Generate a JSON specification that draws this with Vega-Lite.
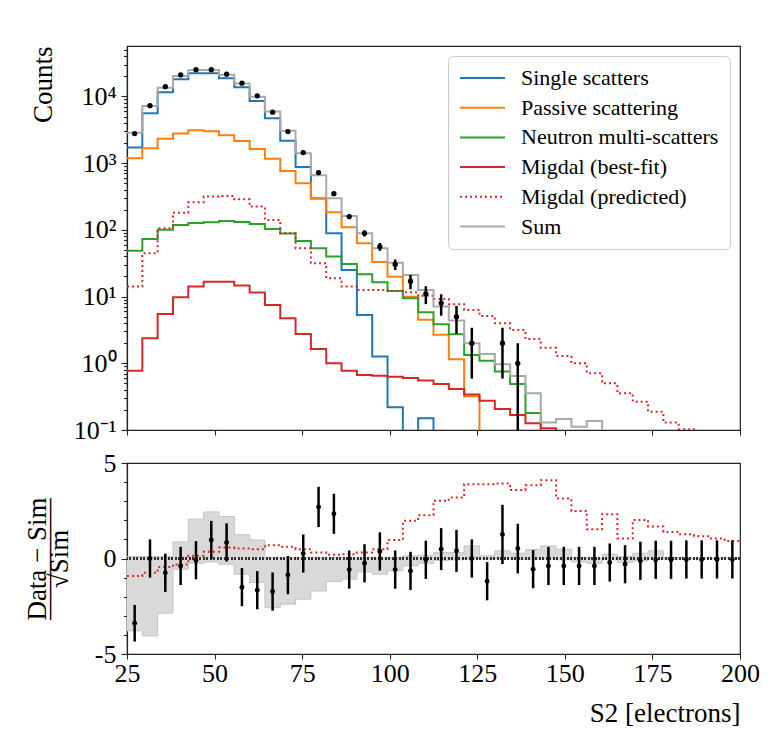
{
  "$schema": "https://vega.github.io/schema/vega-lite/v6.json",
  "padding": {"left": 22, "top": 36, "right": 10, "bottom": 10},
  "background": "white",
  "spacing": 5,
  "config": {
    "font": "Liberation Serif",
    "view": {"stroke": "#222222", "strokeWidth": 1.2},
    "axis": {
      "labelFont": "Liberation Serif", "titleFont": "Liberation Serif",
      "labelFontSize": 26, "titleFontSize": 27, "titleFontWeight": "normal",
      "labelColor": "#000000", "titleColor": "#000000",
      "grid": false, "domainColor": "#222222", "tickColor": "#222222",
      "domainWidth": 1.2, "tickWidth": 1.1, "labelFlush": false, "labelOverlap": false
    },
    "legend": {"labelFont": "Liberation Serif"}
  },
  "datasets": {
    "hist": [
      {"edge": 25, "Single scatters": 1710, "Passive scattering": 1180, "Neutron multi-scatters": 48.7, "Migdal (best-fit)": 0.77, "Migdal (predicted)": 14.1, "Sum": 2860},
      {"edge": 29.375, "Single scatters": 5600, "Passive scattering": 1670, "Neutron multi-scatters": 73, "Migdal (best-fit)": 2.37, "Migdal (predicted)": 44.6, "Sum": 7210},
      {"edge": 33.75, "Single scatters": 11600, "Passive scattering": 2330, "Neutron multi-scatters": 100, "Migdal (best-fit)": 5.5, "Migdal (predicted)": 106, "Sum": 13500},
      {"edge": 38.125, "Single scatters": 18100, "Passive scattering": 2770, "Neutron multi-scatters": 118, "Migdal (best-fit)": 9.8, "Migdal (predicted)": 181, "Sum": 20300},
      {"edge": 42.5, "Single scatters": 22300, "Passive scattering": 3110, "Neutron multi-scatters": 127, "Migdal (best-fit)": 14.1, "Migdal (predicted)": 259, "Sum": 24900},
      {"edge": 46.875, "Single scatters": 22300, "Passive scattering": 3000, "Neutron multi-scatters": 130, "Migdal (best-fit)": 16.7, "Migdal (predicted)": 315, "Sum": 24900},
      {"edge": 51.25, "Single scatters": 18700, "Passive scattering": 2620, "Neutron multi-scatters": 136, "Migdal (best-fit)": 16.7, "Migdal (predicted)": 322, "Sum": 21200},
      {"edge": 55.625, "Single scatters": 13700, "Passive scattering": 2150, "Neutron multi-scatters": 131, "Migdal (best-fit)": 14.6, "Migdal (predicted)": 288, "Sum": 15600},
      {"edge": 60, "Single scatters": 8570, "Passive scattering": 1630, "Neutron multi-scatters": 122, "Migdal (best-fit)": 11.5, "Migdal (predicted)": 223, "Sum": 9930},
      {"edge": 64.375, "Single scatters": 4710, "Passive scattering": 1160, "Neutron multi-scatters": 103, "Migdal (best-fit)": 7.5, "Migdal (predicted)": 141, "Sum": 5920},
      {"edge": 68.75, "Single scatters": 2170, "Passive scattering": 764, "Neutron multi-scatters": 88, "Migdal (best-fit)": 4.73, "Migdal (predicted)": 89, "Sum": 3070},
      {"edge": 73.125, "Single scatters": 877, "Passive scattering": 500, "Neutron multi-scatters": 68, "Migdal (best-fit)": 2.75, "Migdal (predicted)": 53, "Sum": 1410},
      {"edge": 77.5, "Single scatters": 294, "Passive scattering": 298, "Neutron multi-scatters": 53, "Migdal (best-fit)": 1.64, "Migdal (predicted)": 31.6, "Sum": 660},
      {"edge": 81.875, "Single scatters": 89, "Passive scattering": 184, "Neutron multi-scatters": 40, "Migdal (best-fit)": 1.0, "Migdal (predicted)": 18.8, "Sum": 298},
      {"edge": 86.25, "Single scatters": 25, "Passive scattering": 109, "Neutron multi-scatters": 30.8, "Migdal (best-fit)": 0.77, "Migdal (predicted)": 14.1, "Sum": 161},
      {"edge": 90.625, "Single scatters": 5.3, "Passive scattering": 63, "Neutron multi-scatters": 21.6, "Migdal (best-fit)": 0.67, "Migdal (predicted)": 12.6, "Sum": 89},
      {"edge": 95, "Single scatters": 1.26, "Passive scattering": 33, "Neutron multi-scatters": 16.4, "Migdal (best-fit)": 0.65, "Migdal (predicted)": 12.5, "Sum": 53},
      {"edge": 99.375, "Single scatters": 0.22, "Passive scattering": 19.9, "Neutron multi-scatters": 12.1, "Migdal (best-fit)": 0.63, "Migdal (predicted)": 12.1, "Sum": 32},
      {"edge": 103.75, "Single scatters": 0.001, "Passive scattering": 9.95, "Neutron multi-scatters": 9.4, "Migdal (best-fit)": 0.6, "Migdal (predicted)": 11.6, "Sum": 21},
      {"edge": 108.125, "Single scatters": 0.15, "Passive scattering": 4.5, "Neutron multi-scatters": 5.8, "Migdal (best-fit)": 0.55, "Migdal (predicted)": 10.3, "Sum": 12.6},
      {"edge": 112.5, "Single scatters": 0.001, "Passive scattering": 2.68, "Neutron multi-scatters": 3.85, "Migdal (best-fit)": 0.49, "Migdal (predicted)": 9.2, "Sum": 7.1},
      {"edge": 116.875, "Single scatters": 0.001, "Passive scattering": 1.15, "Neutron multi-scatters": 2.72, "Migdal (best-fit)": 0.41, "Migdal (predicted)": 7.7, "Sum": 4.36},
      {"edge": 121.25, "Single scatters": 0.001, "Passive scattering": 0.32, "Neutron multi-scatters": 1.33, "Migdal (best-fit)": 0.34, "Migdal (predicted)": 6.3, "Sum": 2.0},
      {"edge": 125.625, "Single scatters": 0.001, "Passive scattering": 0.001, "Neutron multi-scatters": 1.09, "Migdal (best-fit)": 0.275, "Migdal (predicted)": 5.1, "Sum": 1.38},
      {"edge": 130, "Single scatters": 0.001, "Passive scattering": 0.001, "Neutron multi-scatters": 0.75, "Migdal (best-fit)": 0.206, "Migdal (predicted)": 3.98, "Sum": 0.97},
      {"edge": 134.375, "Single scatters": 0.001, "Passive scattering": 0.001, "Neutron multi-scatters": 0.49, "Migdal (best-fit)": 0.168, "Migdal (predicted)": 3.15, "Sum": 0.645},
      {"edge": 138.75, "Single scatters": 0.001, "Passive scattering": 0.001, "Neutron multi-scatters": 0.18, "Migdal (best-fit)": 0.126, "Migdal (predicted)": 2.31, "Sum": 0.355},
      {"edge": 143.125, "Single scatters": 0.001, "Passive scattering": 0.001, "Neutron multi-scatters": 0.001, "Migdal (best-fit)": 0.106, "Migdal (predicted)": 1.71, "Sum": 0.129},
      {"edge": 147.5, "Single scatters": 0.001, "Passive scattering": 0.001, "Neutron multi-scatters": 0.001, "Migdal (best-fit)": 0.001, "Migdal (predicted)": 1.29, "Sum": 0.146},
      {"edge": 151.875, "Single scatters": 0.001, "Passive scattering": 0.001, "Neutron multi-scatters": 0.001, "Migdal (best-fit)": 0.001, "Migdal (predicted)": 1.0, "Sum": 0.112},
      {"edge": 156.25, "Single scatters": 0.001, "Passive scattering": 0.001, "Neutron multi-scatters": 0.001, "Migdal (best-fit)": 0.001, "Migdal (predicted)": 0.71, "Sum": 0.137},
      {"edge": 160.625, "Single scatters": 0.001, "Passive scattering": 0.001, "Neutron multi-scatters": 0.001, "Migdal (best-fit)": 0.001, "Migdal (predicted)": 0.5, "Sum": 0.001},
      {"edge": 165, "Single scatters": 0.001, "Passive scattering": 0.001, "Neutron multi-scatters": 0.001, "Migdal (best-fit)": 0.001, "Migdal (predicted)": 0.355, "Sum": 0.001},
      {"edge": 169.375, "Single scatters": 0.001, "Passive scattering": 0.001, "Neutron multi-scatters": 0.001, "Migdal (best-fit)": 0.001, "Migdal (predicted)": 0.266, "Sum": 0.001},
      {"edge": 173.75, "Single scatters": 0.001, "Passive scattering": 0.001, "Neutron multi-scatters": 0.001, "Migdal (best-fit)": 0.001, "Migdal (predicted)": 0.188, "Sum": 0.001},
      {"edge": 178.125, "Single scatters": 0.001, "Passive scattering": 0.001, "Neutron multi-scatters": 0.001, "Migdal (best-fit)": 0.001, "Migdal (predicted)": 0.129, "Sum": 0.001},
      {"edge": 182.5, "Single scatters": 0.001, "Passive scattering": 0.001, "Neutron multi-scatters": 0.001, "Migdal (best-fit)": 0.001, "Migdal (predicted)": 0.103, "Sum": 0.001},
      {"edge": 186.875, "Single scatters": 0.001, "Passive scattering": 0.001, "Neutron multi-scatters": 0.001, "Migdal (best-fit)": 0.001, "Migdal (predicted)": 0.001, "Sum": 0.001},
      {"edge": 191.25, "Single scatters": 0.001, "Passive scattering": 0.001, "Neutron multi-scatters": 0.001, "Migdal (best-fit)": 0.001, "Migdal (predicted)": 0.001, "Sum": 0.001},
      {"edge": 195.625, "Single scatters": 0.001, "Passive scattering": 0.001, "Neutron multi-scatters": 0.001, "Migdal (best-fit)": 0.001, "Migdal (predicted)": 0.001, "Sum": 0.001},
      {"edge": 200, "Single scatters": 0.001, "Passive scattering": 0.001, "Neutron multi-scatters": 0.001, "Migdal (best-fit)": 0.001, "Migdal (predicted)": 0.001, "Sum": 0.001}
    ],
    "pts": [
      {"center": 27.1875, "n": 2770, "lo": 2717, "hi": 2823},
      {"center": 31.5625, "n": 7280, "lo": 7195, "hi": 7365},
      {"center": 35.9375, "n": 14000, "lo": 13882, "hi": 14118},
      {"center": 40.3125, "n": 21000, "lo": 20855, "hi": 21145},
      {"center": 44.6875, "n": 25200, "lo": 25041, "hi": 25359},
      {"center": 49.0625, "n": 25200, "lo": 25041, "hi": 25359},
      {"center": 53.4375, "n": 21500, "lo": 21353, "hi": 21647},
      {"center": 57.8125, "n": 15800, "lo": 15674, "hi": 15926},
      {"center": 62.1875, "n": 10200, "lo": 10099, "hi": 10301},
      {"center": 66.5625, "n": 5800, "lo": 5724, "hi": 5876},
      {"center": 70.9375, "n": 2970, "lo": 2915, "hi": 3025},
      {"center": 75.3125, "n": 1440, "lo": 1402, "hi": 1478},
      {"center": 79.6875, "n": 721, "lo": 694, "hi": 748},
      {"center": 84.0625, "n": 349, "lo": 330, "hi": 368},
      {"center": 88.4375, "n": 158, "lo": 145, "hi": 171},
      {"center": 92.8125, "n": 89, "lo": 79.6, "hi": 98.4},
      {"center": 97.1875, "n": 56, "lo": 48.5, "hi": 63.5},
      {"center": 101.5625, "n": 30.5, "lo": 25, "hi": 36},
      {"center": 105.9375, "n": 17, "lo": 12.9, "hi": 21.1},
      {"center": 110.3125, "n": 11, "lo": 7.7, "hi": 14.3},
      {"center": 114.6875, "n": 8, "lo": 5.17, "hi": 10.83},
      {"center": 119.0625, "n": 5, "lo": 2.76, "hi": 7.24},
      {"center": 123.4375, "n": 2, "lo": 0.59, "hi": 3.41},
      {"center": 132.1875, "n": 2, "lo": 0.59, "hi": 3.41},
      {"center": 136.5625, "n": 1, "lo": 0.001, "hi": 2}
    ],
    "band": [
      {"edge": 25, "lo": -3.79, "hi": 0.1, "pred": -0.91},
      {"edge": 29.375, "lo": -4.05, "hi": 0.1, "pred": -0.75},
      {"edge": 33.75, "lo": -2.86, "hi": 0.1, "pred": -0.45},
      {"edge": 38.125, "lo": -0.56, "hi": 0.87, "pred": -0.31},
      {"edge": 42.5, "lo": -0.25, "hi": 2.06, "pred": 0.14},
      {"edge": 46.875, "lo": -0.18, "hi": 2.44, "pred": 0.35},
      {"edge": 51.25, "lo": -0.3, "hi": 2.2, "pred": 0.58},
      {"edge": 55.625, "lo": -0.82, "hi": 1.24, "pred": 0.53},
      {"edge": 60, "lo": -1.26, "hi": 0.97, "pred": 0.49},
      {"edge": 64.375, "lo": -2.57, "hi": 0.03, "pred": 0.7},
      {"edge": 68.75, "lo": -2.39, "hi": 0.03, "pred": 0.61},
      {"edge": 73.125, "lo": -2.13, "hi": 0.03, "pred": 0.49},
      {"edge": 77.5, "lo": -1.7, "hi": 0.03, "pred": 0.31},
      {"edge": 81.875, "lo": -1.2, "hi": 0.03, "pred": 0.19},
      {"edge": 86.25, "lo": -1.08, "hi": 0.03, "pred": 0.22},
      {"edge": 90.625, "lo": -0.7, "hi": 0.03, "pred": 0.31},
      {"edge": 95, "lo": -0.82, "hi": 0.03, "pred": 0.49},
      {"edge": 99.375, "lo": -0.65, "hi": 0.05, "pred": 0.97},
      {"edge": 103.75, "lo": -0.39, "hi": 0.14, "pred": 1.97},
      {"edge": 108.125, "lo": -0.25, "hi": 0.17, "pred": 2.27},
      {"edge": 112.5, "lo": -0.1, "hi": 0.31, "pred": 3.02},
      {"edge": 116.875, "lo": -0.07, "hi": 0.31, "pred": 3.19},
      {"edge": 121.25, "lo": -0.02, "hi": 0.66, "pred": 3.89},
      {"edge": 125.625, "lo": -0.04, "hi": 0.14, "pred": 3.89},
      {"edge": 130, "lo": -0.02, "hi": 0.4, "pred": 3.93},
      {"edge": 134.375, "lo": -0.04, "hi": 0.28, "pred": 3.59},
      {"edge": 138.75, "lo": -0.04, "hi": 0.47, "pred": 3.84},
      {"edge": 143.125, "lo": -0.02, "hi": 0.66, "pred": 4.1},
      {"edge": 147.5, "lo": -0.07, "hi": 0.49, "pred": 3.14},
      {"edge": 151.875, "lo": -0.18, "hi": 0.05, "pred": 2.49},
      {"edge": 156.25, "lo": -0.25, "hi": 0.0, "pred": 1.53},
      {"edge": 160.625, "lo": -0.07, "hi": 0.22, "pred": 2.32},
      {"edge": 165, "lo": -0.21, "hi": 0.1, "pred": 1.05},
      {"edge": 169.375, "lo": -0.12, "hi": 0.28, "pred": 2.02},
      {"edge": 173.75, "lo": -0.04, "hi": 0.4, "pred": 1.68},
      {"edge": 178.125, "lo": -0.04, "hi": 0.05, "pred": 1.39},
      {"edge": 182.5, "lo": -0.02, "hi": 0.02, "pred": 1.27},
      {"edge": 186.875, "lo": -0.02, "hi": 0.02, "pred": 1.17},
      {"edge": 191.25, "lo": -0.02, "hi": 0.02, "pred": 1.05},
      {"edge": 195.625, "lo": -0.02, "hi": 0.02, "pred": 0.91},
      {"edge": 200, "lo": -0.02, "hi": 0.02, "pred": 0.91}
    ],
    "res": [
      {"center": 27.1875, "r": -3.39, "elo": -4.35, "ehi": -2.43},
      {"center": 31.5625, "r": 0.0, "elo": -1.0, "ehi": 1.0},
      {"center": 35.9375, "r": -0.75, "elo": -1.75, "ehi": 0.25},
      {"center": 40.3125, "r": -0.39, "elo": -1.39, "ehi": 0.61},
      {"center": 44.6875, "r": -0.09, "elo": -1.09, "ehi": 0.91},
      {"center": 49.0625, "r": 0.97, "elo": -0.03, "ehi": 1.97},
      {"center": 53.4375, "r": 0.84, "elo": -0.16, "ehi": 1.84},
      {"center": 57.8125, "r": -1.5, "elo": -2.5, "ehi": -0.5},
      {"center": 62.1875, "r": -1.66, "elo": -2.66, "ehi": -0.66},
      {"center": 66.5625, "r": -1.73, "elo": -2.73, "ehi": -0.73},
      {"center": 70.9375, "r": -0.87, "elo": -1.87, "ehi": 0.13},
      {"center": 75.3125, "r": 0.26, "elo": -0.74, "ehi": 1.26},
      {"center": 79.6875, "r": 2.7, "elo": 1.65, "ehi": 3.75},
      {"center": 84.0625, "r": 2.34, "elo": 1.29, "ehi": 3.39},
      {"center": 88.4375, "r": -0.58, "elo": -1.58, "ehi": 0.42},
      {"center": 92.8125, "r": -0.25, "elo": -1.25, "ehi": 0.75},
      {"center": 97.1875, "r": 0.37, "elo": -0.63, "ehi": 1.37},
      {"center": 101.5625, "r": -0.58, "elo": -1.58, "ehi": 0.42},
      {"center": 105.9375, "r": -0.65, "elo": -1.65, "ehi": 0.35},
      {"center": 110.3125, "r": -0.07, "elo": -1.07, "ehi": 0.93},
      {"center": 114.6875, "r": 0.49, "elo": -0.61, "ehi": 1.59},
      {"center": 119.0625, "r": 0.4, "elo": -0.7, "ehi": 1.5},
      {"center": 123.4375, "r": 0.0, "elo": -1.0, "ehi": 1.0},
      {"center": 127.8125, "r": -1.19, "elo": -2.19, "ehi": -0.19},
      {"center": 132.1875, "r": 1.26, "elo": -0.29, "ehi": 2.81},
      {"center": 136.5625, "r": 0.52, "elo": -0.78, "ehi": 1.82},
      {"center": 140.9375, "r": -0.56, "elo": -1.56, "ehi": 0.44},
      {"center": 145.3125, "r": -0.39, "elo": -1.39, "ehi": 0.61},
      {"center": 149.6875, "r": -0.39, "elo": -1.39, "ehi": 0.61},
      {"center": 154.0625, "r": -0.39, "elo": -1.39, "ehi": 0.61},
      {"center": 158.4375, "r": -0.39, "elo": -1.39, "ehi": 0.61},
      {"center": 162.8125, "r": -0.21, "elo": -1.21, "ehi": 0.79},
      {"center": 167.1875, "r": -0.3, "elo": -1.3, "ehi": 0.7},
      {"center": 171.5625, "r": -0.12, "elo": -1.12, "ehi": 0.88},
      {"center": 175.9375, "r": -0.07, "elo": -1.07, "ehi": 0.93},
      {"center": 180.3125, "r": -0.07, "elo": -1.07, "ehi": 0.93},
      {"center": 184.6875, "r": -0.05, "elo": -1.05, "ehi": 0.95},
      {"center": 189.0625, "r": -0.05, "elo": -1.05, "ehi": 0.95},
      {"center": 193.4375, "r": -0.05, "elo": -1.05, "ehi": 0.95},
      {"center": 197.8125, "r": -0.05, "elo": -1.05, "ehi": 0.95}
    ]
  },
  "vconcat": [
    {
      "width": 613,
      "height": 384,
      "layer": [
        {
          "data": {"name": "hist"},
          "transform": [{"fold": ["Single scatters", "Passive scattering", "Neutron multi-scatters", "Migdal (best-fit)", "Migdal (predicted)", "Sum"], "as": ["series", "count"]}],
          "mark": {"type": "line", "interpolate": "step-after", "strokeWidth": 2, "clip": true},
          "encoding": {
            "x": {"field": "edge", "type": "quantitative", "scale": {"domain": [25, 200], "nice": false, "zero": false},
                  "axis": {"values": [25, 50, 75, 100, 125, 150, 175, 200], "labels": false, "title": null, "tickSize": 5}},
            "y": {"field": "count", "type": "quantitative", "scale": {"type": "log", "domain": [0.1, 57000], "nice": false},
                  "axis": {"title": "Counts", "titleAnchor": "end", "titlePadding": 16, "labelPadding": 5, "labelOverlap": false,
                           "values": [0.1, 0.2, 0.3, 0.4, 0.5, 0.6, 0.7, 0.8, 0.9, 1, 2, 3, 4, 5, 6, 7, 8, 9, 10, 20, 30, 40, 50, 60, 70, 80, 90, 100, 200, 300, 400, 500, 600, 700, 800, 900, 1000, 2000, 3000, 4000, 5000, 6000, 7000, 8000, 9000, 10000, 20000, 30000, 40000, 50000],
                           "labelExpr": "datum.value == 0.1 ? '10⁻¹' : datum.value == 1 ? '10⁰' : datum.value == 10 ? '10¹' : datum.value == 100 ? '10²' : datum.value == 1000 ? '10³' : datum.value == 10000 ? '10⁴' : ''",
                           "tickSize": {"condition": {"test": "indexof([0.1, 1, 10, 100, 1000, 10000], datum.value) >= 0", "value": 6}, "value": 3.5}}},
            "color": {"field": "series", "type": "nominal",
                      "scale": {"domain": ["Single scatters", "Passive scattering", "Neutron multi-scatters", "Migdal (best-fit)", "Migdal (predicted)", "Sum"],
                                "range": ["#1f77b4", "#ff7f0e", "#2ca02c", "#d62728", "#d62728", "#a9a9a9"]},
                      "legend": {"title": null, "orient": "top-right", "offset": 10, "labelFont": "Liberation Serif", "labelFontSize": 22, "labelLimit": 400, "labelColor": "#000000", "symbolType": "stroke", "symbolSize": 2025, "symbolStrokeWidth": 2, "clipHeight": 22, "rowPadding": 7.7, "labelOffset": 15, "padding": 11, "strokeColor": "#cccccc", "fillColor": "white", "cornerRadius": 5}},
            "strokeDash": {"field": "series", "type": "nominal",
                      "scale": {"domain": ["Single scatters", "Passive scattering", "Neutron multi-scatters", "Migdal (best-fit)", "Migdal (predicted)", "Sum"],
                                "range": [[1, 0], [1, 0], [1, 0], [1, 0], [2, 3], [1, 0]]},
                      "legend": {"title": null, "orient": "top-right", "offset": 10, "labelFont": "Liberation Serif", "labelFontSize": 22, "labelLimit": 400, "labelColor": "#000000", "symbolType": "stroke", "symbolSize": 2025, "symbolStrokeWidth": 2, "clipHeight": 22, "rowPadding": 7.7, "labelOffset": 15, "padding": 11, "strokeColor": "#cccccc", "fillColor": "white", "cornerRadius": 5}}
          }
        },
        {
          "data": {"name": "pts"},
          "mark": {"type": "rule", "strokeWidth": 2.5, "color": "#000000", "clip": true},
          "encoding": {
            "x": {"field": "center", "type": "quantitative", "scale": {"domain": [25, 200], "nice": false, "zero": false}},
            "y": {"field": "lo", "type": "quantitative", "scale": {"type": "log", "domain": [0.1, 57000], "nice": false}},
            "y2": {"field": "hi"}
          }
        },
        {
          "data": {"name": "pts"},
          "mark": {"type": "circle", "size": 28, "color": "#000000", "opacity": 1},
          "encoding": {
            "x": {"field": "center", "type": "quantitative", "scale": {"domain": [25, 200], "nice": false, "zero": false}},
            "y": {"field": "n", "type": "quantitative", "scale": {"type": "log", "domain": [0.1, 57000], "nice": false}}
          }
        }
      ]
    },
    {
      "width": 613,
      "height": 191,
      "resolve": {"axis": {"y": "independent"}},
      "layer": [
        {
          "data": {"name": "band"},
          "mark": {"type": "area", "interpolate": "step-after", "color": "#d9d9d9", "opacity": 1},
          "encoding": {
            "x": {"field": "edge", "type": "quantitative", "scale": {"domain": [25, 200], "nice": false, "zero": false},
                  "axis": {"values": [25, 50, 75, 100, 125, 150, 175, 200], "title": "S2 [electrons]", "titleAnchor": "end", "titlePadding": 14, "labelPadding": 1, "tickSize": 5}},
            "y": {"field": "lo", "type": "quantitative", "scale": {"domain": [-5, 5], "nice": false},
                  "axis": {"orient": "left", "title": ["Data − Sim", "————–", "", "√Sim"], "titleLineHeight": 11, "titlePadding": 10, "labelPadding": 5, "labelOverlap": false,
                           "values": [-5, 0, 5],
                           "labelExpr": "replace(datum.label, '−', '-')",
                           "tickSize": 6}},
            "y2": {"field": "hi"}
          }
        },
        {
          "data": {"name": "band"},
          "mark": {"type": "line", "interpolate": "step-after", "color": "#c4c4c4", "strokeWidth": 1},
          "encoding": {
            "x": {"field": "edge", "type": "quantitative", "scale": {"domain": [25, 200], "nice": false, "zero": false}},
            "y": {"field": "lo", "type": "quantitative", "scale": {"domain": [-5, 5], "nice": false}, "axis": null}
          }
        },
        {
          "data": {"name": "band"},
          "mark": {"type": "line", "interpolate": "step-after", "color": "#c4c4c4", "strokeWidth": 1},
          "encoding": {
            "x": {"field": "edge", "type": "quantitative", "scale": {"domain": [25, 200], "nice": false, "zero": false}},
            "y": {"field": "hi", "type": "quantitative", "scale": {"domain": [-5, 5], "nice": false}, "axis": null}
          }
        },
        {
          "data": {"name": "band"},
          "mark": {"type": "line", "interpolate": "step-after", "color": "#d62728", "strokeWidth": 2, "strokeDash": [2, 3]},
          "encoding": {
            "x": {"field": "edge", "type": "quantitative", "scale": {"domain": [25, 200], "nice": false, "zero": false}},
            "y": {"field": "pred", "type": "quantitative", "scale": {"domain": [-5, 5], "nice": false},
                  "axis": {"orient": "left", "values": [-4, -3, -2, -1, 1, 2, 3, 4], "labels": false, "title": null, "domain": false, "tickSize": 3.5}}
          }
        },
        {
          "data": {"name": "band"},
          "mark": {"type": "rule", "color": "#333333", "strokeWidth": 1.5, "strokeDash": [1.5, 2]},
          "encoding": {"y": {"datum": 0, "type": "quantitative", "axis": null}}
        },
        {
          "data": {"name": "res"},
          "mark": {"type": "rule", "strokeWidth": 2.5, "color": "#000000"},
          "encoding": {
            "x": {"field": "center", "type": "quantitative", "scale": {"domain": [25, 200], "nice": false, "zero": false}},
            "y": {"field": "elo", "type": "quantitative", "scale": {"domain": [-5, 5], "nice": false}, "axis": null},
            "y2": {"field": "ehi"}
          }
        },
        {
          "data": {"name": "res"},
          "mark": {"type": "circle", "size": 24, "color": "#000000", "opacity": 1},
          "encoding": {
            "x": {"field": "center", "type": "quantitative", "scale": {"domain": [25, 200], "nice": false, "zero": false}},
            "y": {"field": "r", "type": "quantitative", "scale": {"domain": [-5, 5], "nice": false}, "axis": null}
          }
        }
      ]
    }
  ]
}
